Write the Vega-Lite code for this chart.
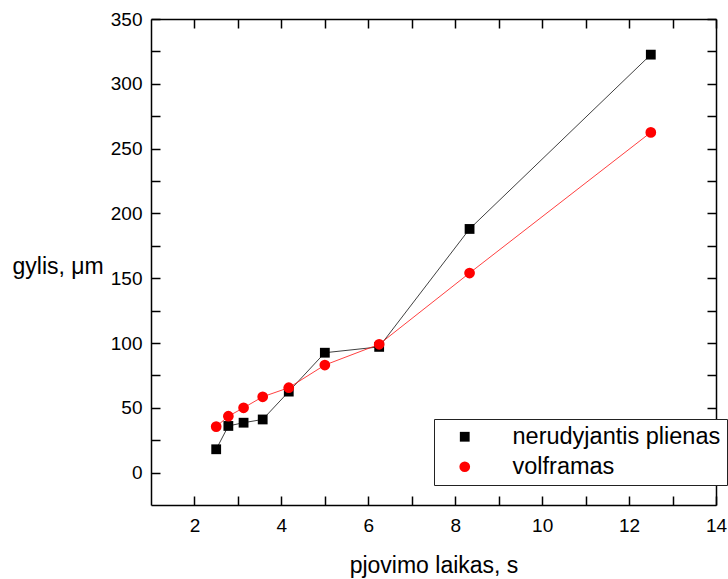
{
  "$schema": "https://vega.github.io/schema/vega-lite/v6.json",
  "width": 565,
  "height": 486,
  "autosize": {"type": "none"},
  "padding": {"left": 151, "top": 19, "right": 12, "bottom": 74},
  "background": "white",
  "config": {
    "view": {"stroke": null},
    "font": "Liberation Sans",
    "axis": {
      "grid": false,
      "domainColor": "black",
      "domainWidth": 1.5,
      "tickColor": "black",
      "tickWidth": 1.5,
      "tickSize": -9,
      "labelFont": "Liberation Sans",
      "labelFontSize": 19,
      "labelColor": "black",
      "titleFont": "Liberation Sans",
      "titleFontSize": 23,
      "titleFontWeight": "normal",
      "titleColor": "black"
    },
    "legend": {
      "title": null,
      "orient": "none",
      "legendX": 283,
      "legendY": 400,
      "padding": 6,
      "strokeColor": "#222222",
      "strokeWidth": 1,
      "fillColor": "white",
      "labelFont": "Liberation Sans",
      "labelFontSize": 23.5,
      "labelColor": "black",
      "labelLimit": 0,
      "labelOffset": 36,
      "symbolOffset": 13,
      "rowPadding": 5,
      "symbolOpacity": 1,
      "symbolStrokeWidth": 0
    }
  },
  "data": {
    "values": [
      {"t": 2.5, "d": 18, "series": "nerudyjantis plienas"},
      {"t": 2.78, "d": 36, "series": "nerudyjantis plienas"},
      {"t": 3.13, "d": 38.5, "series": "nerudyjantis plienas"},
      {"t": 3.57, "d": 41, "series": "nerudyjantis plienas"},
      {"t": 4.17, "d": 62.5, "series": "nerudyjantis plienas"},
      {"t": 5.0, "d": 92.5, "series": "nerudyjantis plienas"},
      {"t": 6.25, "d": 97, "series": "nerudyjantis plienas"},
      {"t": 8.33, "d": 188, "series": "nerudyjantis plienas"},
      {"t": 12.5, "d": 322.5, "series": "nerudyjantis plienas"},
      {"t": 2.5, "d": 35.5, "series": "volframas"},
      {"t": 2.78, "d": 43.5, "series": "volframas"},
      {"t": 3.13, "d": 50, "series": "volframas"},
      {"t": 3.57, "d": 58.5, "series": "volframas"},
      {"t": 4.17, "d": 65.5, "series": "volframas"},
      {"t": 5.0, "d": 83, "series": "volframas"},
      {"t": 6.25, "d": 99, "series": "volframas"},
      {"t": 8.33, "d": 154, "series": "volframas"},
      {"t": 12.5, "d": 262.5, "series": "volframas"}
    ]
  },
  "layer": [
    {
      "mark": {"type": "line", "strokeWidth": 1, "opacity": 0.75},
      "encoding": {
        "x": {
          "field": "t", "type": "quantitative",
          "scale": {"domain": [1, 14], "nice": false, "zero": false},
          "axis": {
            "orient": "bottom",
            "title": "pjovimo laikas, s",
            "values": [2, 3, 4, 5, 6, 7, 8, 9, 10, 11, 12, 13, 14],
            "labelExpr": "datum.value % 2 == 0 ? datum.label : ''",
            "labelPadding": 20,
            "labelFlush": false,
            "labelOverlap": false,
            "titleBaseline": "alphabetic",
            "titleY": 67,
            "encode": {"ticks": {"update": {"y2": {"signal": "datum.value % 2 == 0 ? -9 : -5"}}}}
          }
        },
        "y": {
          "field": "d", "type": "quantitative",
          "scale": {"domain": [-25, 350], "nice": false, "zero": false},
          "axis": {
            "orient": "left",
            "title": "gylis, μm",
            "values": [0, 25, 50, 75, 100, 125, 150, 175, 200, 225, 250, 275, 300, 325, 350],
            "labelExpr": "datum.value % 50 == 0 ? datum.label : ''",
            "labelPadding": 18,
            "labelFlush": false,
            "labelOverlap": false,
            "titleAngle": 0,
            "titleAlign": "left",
            "titleBaseline": "alphabetic",
            "titleX": -139,
            "titleY": 254,
            "encode": {"ticks": {"update": {"x2": {"signal": "datum.value % 50 == 0 ? 9 : 5"}}}}
          }
        },
        "color": {
          "field": "series", "type": "nominal",
          "scale": {"domain": ["nerudyjantis plienas", "volframas"], "range": ["#000000", "#ff0000"]},
          "legend": {"symbolOpacity": 1, "labelLimit": 0}
        },
        "detail": {"field": "series"}
      }
    },
    {
      "mark": {"type": "point", "filled": true, "opacity": 1, "strokeWidth": 0},
      "encoding": {
        "x": {
          "field": "t", "type": "quantitative",
          "axis": {
            "orient": "top",
            "title": null,
            "labels": false,
            "values": [2, 3, 4, 5, 6, 7, 8, 9, 10, 11, 12, 13, 14],
            "encode": {"ticks": {"update": {"y2": {"signal": "datum.value % 2 == 0 ? 9 : 5"}}}}
          }
        },
        "y": {
          "field": "d", "type": "quantitative",
          "axis": {
            "orient": "right",
            "title": null,
            "labels": false,
            "values": [0, 25, 50, 75, 100, 125, 150, 175, 200, 225, 250, 275, 300, 325, 350],
            "encode": {"ticks": {"update": {"x2": {"signal": "datum.value % 50 == 0 ? -9 : -5"}}}}
          }
        },
        "color": {
          "field": "series", "type": "nominal"
        },
        "shape": {
          "field": "series", "type": "nominal",
          "scale": {"domain": ["nerudyjantis plienas", "volframas"], "range": ["square", "circle"]},
          "legend": null
        },
        "size": {
          "field": "series", "type": "nominal",
          "scale": {"domain": ["nerudyjantis plienas", "volframas"], "range": [96, 115]},
          "legend": null
        }
      }
    }
  ],
  "resolve": {"axis": {"x": "independent", "y": "independent"}}
}
